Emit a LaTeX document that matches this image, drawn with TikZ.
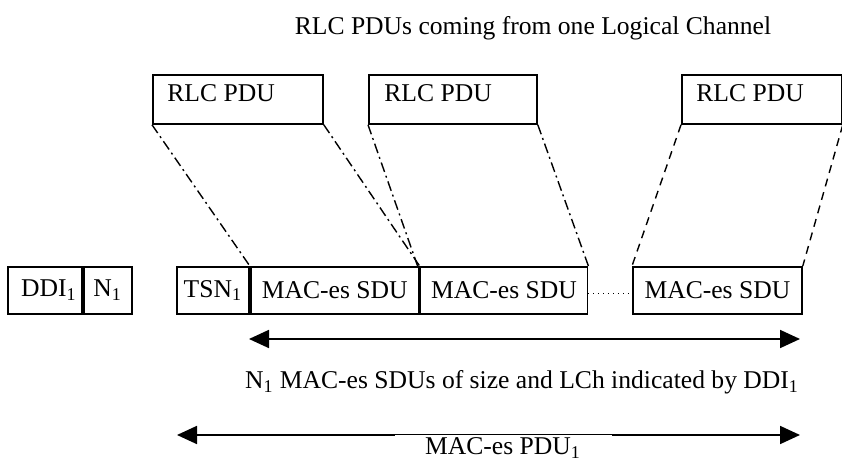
\documentclass[tikz,border=0pt]{standalone}
\usepackage{fontspec}
\setmainfont{Liberation Serif}
\usetikzlibrary{arrows.meta}
\begin{document}
\begin{tikzpicture}[x=0.5pt,y=-0.5pt,
  font=\fontsize{12.8}{15}\selectfont,
  cell/.style={draw,line width=0.9pt,inner sep=0pt,minimum height=23.5pt,anchor=north west},
  rlcbox/.style={draw,line width=0.9pt,inner sep=0pt,minimum height=24.5pt,anchor=north west},
  lbl/.style={anchor=base west,inner sep=0pt},
  dd/.style={line width=0.7pt,dash pattern=on 5pt off 2pt on 1pt off 2pt},
  ds/.style={line width=0.7pt,dash pattern=on 4pt off 3pt},
  dimarrow/.style={line width=0.9pt,{Triangle[length=10pt,width=9pt]}-{Triangle[length=10pt,width=9pt]}}
]
\useasboundingbox (0,0) rectangle (842,464);

% title
\node[anchor=base,inner sep=0pt] (title) at (533,35) {RLC PDUs coming from one Logical Channel};

% RLC PDU boxes
\node[rlcbox,minimum width=85pt] (r1) at (152,74) {};
\node[rlcbox,minimum width=84pt] (r2) at (368,74) {};
\node[rlcbox,minimum width=80pt] (r3) at (681,74) {};
\node[lbl] (r1t) at (167,102) {RLC PDU};
\node[lbl] (r2t) at (384,102) {RLC PDU};
\node[lbl] (r3t) at (696,102) {RLC PDU};

% bottom row
\node[cell,minimum width=37pt] (ddi) at (7,266) {\hspace*{4pt}DDI\textsubscript{1}};
\node[cell,minimum width=24pt,anchor=north west] (n1) at (ddi.north east) {N\textsubscript{1}};
\node[cell,minimum width=36pt] (tsn) at (176,266) {TSN\textsubscript{1}};
\node[cell,minimum width=84pt] (s1) at (tsn.north east) {MAC-es SDU};
\node[cell,minimum width=83.5pt] (s2) at (s1.north east) {MAC-es SDU};
\node[cell,minimum width=84.5pt] (s3) at (632,266) {MAC-es SDU};

% dotted continuation
\draw[line width=0.5pt,dotted] ([yshift=-1.5pt]s2.east) -- ([yshift=-1.5pt]s3.west);

% mapping lines
\draw[dd] (r1.south west) -- (s1.north west);
\draw[dd] (r1.south east) -- (s1.north east);
\draw[dd] (r2.south west) -- ([xshift=-1pt]s2.north west);
\draw[dd] (r2.south east) -- (s2.north east);
\draw[ds] (r3.south west) -- (s3.north west);
\draw[ds] (r3.south east) -- (s3.north east);

% dimension arrows
\coordinate (a1l) at (249,339);
\coordinate (a1r) at (800,339);
\draw[dimarrow] (a1l) -- (a1r);
\node[anchor=base,inner sep=0pt] (lab1) at (522,389) {N\textsubscript{1} MAC-es SDUs of size and LCh indicated by DDI\textsubscript{1}};

\coordinate (a2l) at (177,435);
\coordinate (a2r) at (800,435);
\draw[dimarrow] (a2l) -- (a2r);
\node[anchor=base,fill=white,inner xsep=0pt,inner ysep=1.3pt,minimum width=108.5pt] (lab2) at (503,455) {MAC-es PDU\textsubscript{1}};
\end{tikzpicture}
\end{document}
